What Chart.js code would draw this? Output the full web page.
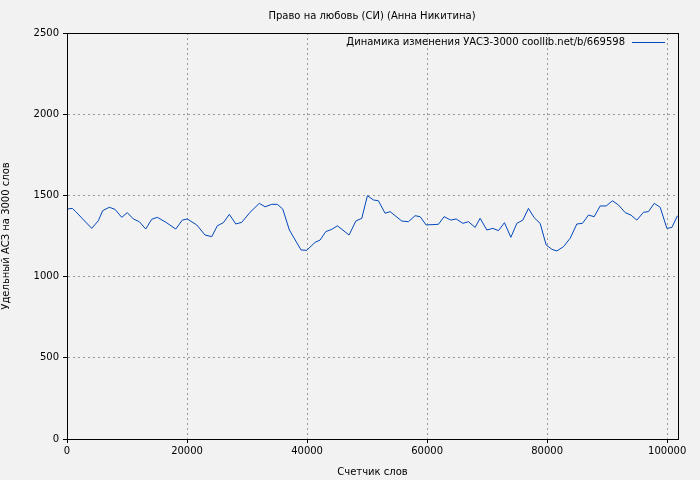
<!DOCTYPE html>
<html>
<head>
<meta charset="utf-8">
<script src="https://cdn.jsdelivr.net/npm/chart.js@4"></script>
<style>body{margin:0;background:#f2f2f2}</style>
</head>
<body>
<canvas id="myChart" width="700" height="480"></canvas>
<script>
var words = [50, 883, 1450, 4117, 5217, 5950, 7050, 8000, 9117, 10050, 11050, 12050, 13117, 14117, 15050, 16500, 18117, 19217, 20050, 21617, 23000, 24117, 25050, 26050, 27050, 28117, 29117, 30500, 32050, 33000, 34117, 35050, 35950, 37050, 39000, 39950, 41333, 42167, 43117, 44117, 45050, 47000, 48117, 49117, 50050, 51050, 51883, 53000, 53833, 55783, 56883, 58000, 58833, 59833, 61883, 62833, 63950, 64833, 65950, 66883, 68000, 68833, 69950, 70950, 71883, 72883, 73950, 74950, 75950, 76883, 77833, 78833, 79833, 80783, 81617, 82717, 83833, 84950, 85883, 86883, 87833, 88833, 89833, 90883, 91883, 93000, 93950, 94950, 96050, 96883, 97833, 98833, 99950, 100783, 101717];
var values = [1416, 1420, 1400, 1297, 1344, 1406, 1427, 1414, 1365, 1394, 1355, 1338, 1293, 1353, 1365, 1334, 1293, 1348, 1355, 1318, 1256, 1246, 1313, 1332, 1383, 1324, 1334, 1396, 1451, 1430, 1445, 1445, 1416, 1287, 1164, 1162, 1211, 1225, 1277, 1291, 1313, 1256, 1342, 1359, 1498, 1472, 1467, 1390, 1400, 1342, 1338, 1375, 1369, 1318, 1322, 1369, 1348, 1355, 1328, 1338, 1303, 1359, 1287, 1297, 1283, 1332, 1242, 1328, 1348, 1420, 1363, 1328, 1195, 1168, 1158, 1184, 1236, 1324, 1328, 1379, 1369, 1435, 1435, 1467, 1441, 1394, 1379, 1348, 1396, 1400, 1451, 1427, 1297, 1303, 1375];
var xTicks = [0, 20000, 40000, 60000, 80000, 100000];
var yTicks = [0, 500, 1000, 1500, 2000, 2500];
var title = 'Право на любовь (СИ) (Анна Никитина)';
var legendText = 'Динамика изменения УАСЗ-3000 coollib.net/b/669598';
var lineColor = '#0047ba';

var points = words.map(function (w, i) { return { x: w, y: values[i] }; });
var font = { family: 'DejaVu Sans', size: 10 };

var decor = {
  id: 'decor',
  afterDraw: function (chart) {
    var c = chart.ctx, a = chart.chartArea;
    c.save();
    c.setLineDash([]);
    c.strokeStyle = '#000';
    c.lineWidth = 1;
    c.strokeRect(Math.round(a.left) + 0.5, Math.round(a.top) + 0.5, Math.round(a.right - a.left), Math.round(a.bottom - a.top));
    c.fillStyle = '#000';
    c.font = '10px "DejaVu Sans"';
    c.textAlign = 'center';
    c.textBaseline = 'middle';
    c.fillText(title, 372, 16);
    c.textAlign = 'right';
    c.fillText(legendText, 625, 42);
    c.strokeStyle = lineColor;
    c.beginPath();
    c.moveTo(632, 42.5);
    c.lineTo(665, 42.5);
    c.stroke();
    c.restore();
  }
};

var ctx = document.getElementById('myChart').getContext('2d');
var chart = new Chart(ctx, {
  type: 'line',
  data: {
    datasets: [{
      data: points,
      borderColor: lineColor,
      borderWidth: 1,
      pointRadius: 0,
      tension: 0
    }]
  },
  plugins: [decor],
  options: {
    responsive: false,
    animation: false,
    layout: { padding: { top: 33, right: 22, left: 0, bottom: 0 } },
    plugins: { legend: { display: false }, tooltip: { enabled: false } },
    scales: {
      x: {
        type: 'linear',
        min: 0,
        max: 101800,
        afterBuildTicks: function (s) { s.ticks = xTicks.map(function (v) { return { value: v }; }); },
        afterFit: function (s) { s.height = 41; },
        grid: { color: '#999', tickLength: 4, tickColor: '#000' },
        border: { display: true, color: '#000', dash: [2, 3] },
        ticks: { color: '#000', font: font, padding: 2, maxRotation: 0, callback: function (v) { return String(v); } },
        title: { display: true, text: 'Счетчик слов', color: '#000', font: font, padding: { top: 2, bottom: 2 } }
      },
      y: {
        min: 0,
        max: 2500,
        afterBuildTicks: function (s) { s.ticks = yTicks.map(function (v) { return { value: v }; }); },
        afterFit: function (s) { s.width = 67; },
        grid: { color: '#999', tickLength: 4, tickColor: '#000' },
        border: { display: true, color: '#000', dash: [2, 3] },
        ticks: { color: '#000', font: font, padding: 4, callback: function (v) { return String(v); } },
        title: { display: true, text: 'Удельный АСЗ на 3000 слов', color: '#000', font: font, padding: 0 }
      }
    }
  }
});
</script>
</body>
</html>
